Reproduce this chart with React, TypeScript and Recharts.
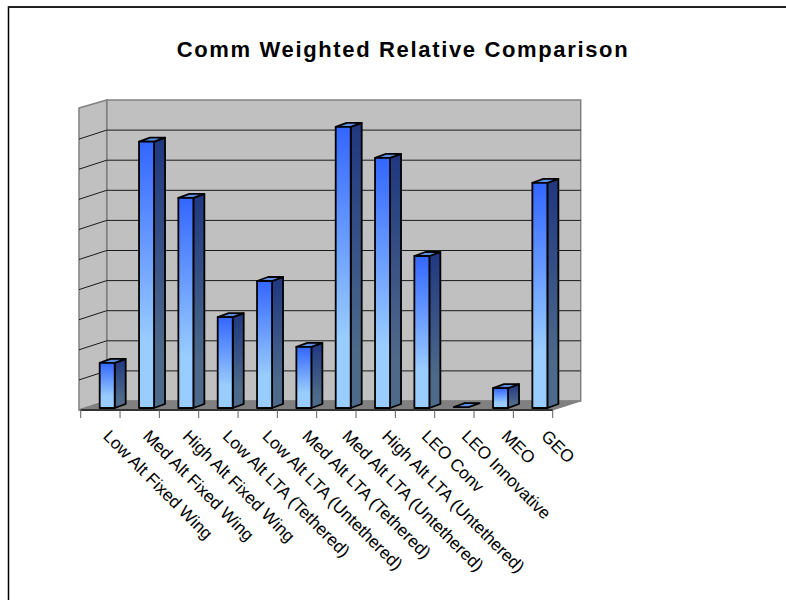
import React from "react";
import { BarChart, Bar, XAxis, YAxis, CartesianGrid } from "recharts";

const categories = [
  "Low Alt Fixed Wing",
  "Med Alt Fixed Wing",
  "High Alt Fixed Wing",
  "Low Alt LTA (Tethered)",
  "Low Alt LTA (Untethered)",
  "Med Alt LTA (Tethered)",
  "Med Alt LTA (Untethered)",
  "High Alt LTA (Untethered)",
  "LEO Conv",
  "LEO Innovative",
  "MEO",
  "GEO",
];
const values = [1.5, 8.85, 6.98, 3.02, 4.22, 2.03, 9.34, 8.31, 5.05, 0.03, 0.66, 7.48];
const yTicks = [0, 1, 2, 3, 4, 5, 6, 7, 8, 9, 10];

const data = categories.map((name, i) => ({ name, value: values[i] }));

const WALL = "#C0C0C0";
const WALL_LINE = "#808080";
const DEPTH_X = 28;
const DEPTH_Y = 9;
const LEFT = 80.7;
const RIGHT = 552.7;
const BOTTOM = 410;
const BAR_DX = 7;
const BAR_DY = -2;
const BAR_DEPTH_X = 11;
const BAR_DEPTH_Y = 4;
const WALL_X = LEFT + DEPTH_X - 2;

// frame, title and the box walls sit in an svg under the transparent chart
const Backdrop = () => (
  <svg width={786} height={600} style={{ position: "absolute", left: 0, top: 0 }}>
    <line x1={8.5} y1={6} x2={8.5} y2={600} stroke="#000" strokeWidth={1.5} />
    <line x1={8} y1={7} x2={786} y2={7} stroke="#222" strokeWidth={2} />
    <text
      x={403}
      y={57}
      textAnchor="middle"
      fontFamily="Liberation Sans"
      fontWeight="bold"
      fontSize={22}
      letterSpacing={1.65}
      fill="#000"
    >
      Comm Weighted Relative Comparison
    </text>
    <polygon
      points={`${WALL_X},100 ${WALL_X},${BOTTOM - DEPTH_Y} ${RIGHT + DEPTH_X},${BOTTOM - DEPTH_Y} ${RIGHT + DEPTH_X},100`}
      fill={WALL}
      stroke={WALL_LINE}
      strokeWidth={1.5}
    />
    <polygon
      points={`79,108 ${WALL_X},100 ${WALL_X},${BOTTOM - DEPTH_Y} 79,${BOTTOM}`}
      fill={WALL}
      stroke={WALL_LINE}
      strokeWidth={1.5}
    />
    <polygon
      points={`79,${BOTTOM} ${WALL_X},${BOTTOM - DEPTH_Y} ${RIGHT + DEPTH_X},${BOTTOM - DEPTH_Y} ${RIGHT},${BOTTOM}`}
      fill={WALL_LINE}
      stroke={WALL_LINE}
    />
  </svg>
);

// gridline on the back wall plus its slanted part on the left wall
const GridLine = (props: any) => {
  const { y1 } = props;
  const y = y1 - DEPTH_Y;
  if (Math.abs(y1 - BOTTOM) < 1 || y < 101) return <g />;
  return (
    <g stroke="#1a1a1a" strokeWidth={1} fill="none">
      <line x1={WALL_X} y1={y} x2={RIGHT + DEPTH_X} y2={y} />
      <line x1={79} y1={y + DEPTH_Y} x2={WALL_X} y2={y} />
    </g>
  );
};

const Bar3D = (props: any) => {
  const { x, y, width, height } = props;
  const l = x + BAR_DX;
  const t = y + BAR_DY;
  const r = l + width;
  const b = t + height;
  return (
    <g stroke="#000" strokeWidth={1.8} strokeLinejoin="round">
      {height > 2 && (
        <polygon
          points={`${r},${t} ${r + BAR_DEPTH_X},${t - BAR_DEPTH_Y} ${r + BAR_DEPTH_X},${b - BAR_DEPTH_Y} ${r},${b}`}
          fill="url(#sideFill)"
        />
      )}
      <polygon
        points={`${l},${t} ${l + BAR_DEPTH_X},${t - BAR_DEPTH_Y} ${r + BAR_DEPTH_X},${t - BAR_DEPTH_Y} ${r},${t}`}
        fill="#5F8FE3"
      />
      {height > 2 && <rect x={l} y={t} width={width} height={height} fill="url(#frontFill)" />}
    </g>
  );
};

const CategoryTick = (props: any) => {
  const { x, payload, index } = props;
  const step = (RIGHT - LEFT) / categories.length;
  const base = BOTTOM;
  return (
    <g>
      <line x1={x - step / 2} y1={base} x2={x - step / 2} y2={base + 8} stroke="#606060" strokeWidth={1} />
      {index === categories.length - 1 && (
        <line x1={x + step / 2} y1={base} x2={x + step / 2} y2={base + 8} stroke="#606060" strokeWidth={1} />
      )}
      <text
        x={0}
        y={0}
        transform={`translate(${x + 5 + index * 0.5},${base + 24}) rotate(45)`}
        textAnchor="start"
        fontFamily="Liberation Sans"
        fontSize={17.2}
        fill="#000"
        dominantBaseline="middle"
      >
        {payload.value}
      </text>
    </g>
  );
};

export default function App() {
  return (
    <div style={{ position: "absolute", left: 0, top: 0, width: 786, height: 600, background: "#fff" }}>
      <Backdrop />
      <div style={{ position: "absolute", left: 0, top: 0 }}>
        <BarChart
          width={786}
          height={600}
          data={data}
          barSize={15}
          margin={{ top: 109, right: 786 - RIGHT, bottom: 40, left: LEFT }}
        >
          <defs>
            <linearGradient id="frontFill" x1="0" y1="0" x2="0" y2="1">
              <stop offset="0" stopColor="#3366FF" />
              <stop offset="0.75" stopColor="#99CCFF" />
              <stop offset="1" stopColor="#99CCFF" />
            </linearGradient>
            <linearGradient id="sideFill" x1="0" y1="0" x2="0" y2="1">
              <stop offset="0" stopColor="#1F3780" />
              <stop offset="0.8" stopColor="#4D6A8A" />
              <stop offset="1" stopColor="#4D6A8A" />
            </linearGradient>
          </defs>
          <CartesianGrid vertical={false} horizontal={(p: any) => <GridLine {...p} />} />
          <XAxis
            dataKey="name"
            interval={0}
            height={150}
            tickLine={false}
            axisLine={{ stroke: "#333333", strokeWidth: 2 }}
            tick={(p: any) => <CategoryTick {...p} />}
          />
          <YAxis hide domain={[0, 10]} ticks={yTicks} />
          <Bar dataKey="value" isAnimationActive={false} shape={(p: any) => <Bar3D {...p} />} />
        </BarChart>
      </div>
    </div>
  );
}
